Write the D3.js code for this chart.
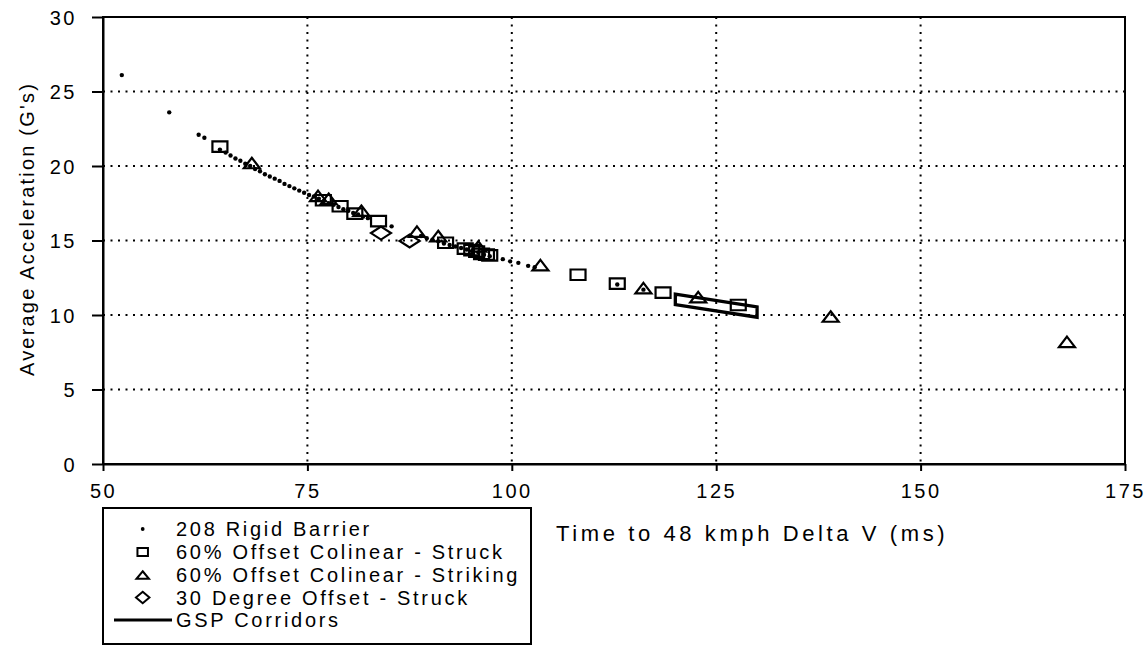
<!DOCTYPE html>
<html><head><meta charset="utf-8">
<script src="https://cdn.jsdelivr.net/npm/d3@7"></script>
<style>
html,body{margin:0;padding:0;background:#fff;}
text{font-family:"Liberation Sans",Arial,sans-serif;fill:#000;}
</style></head>
<body><svg id="c" width="1147" height="646"></svg>
<script>
// ---- data ----
const xTicks = [50, 75, 100, 125, 150, 175];
const yTicks = [0, 5, 10, 15, 20, 25, 30];

const barrierX = [52.3, 58.1, 61.7, 62.4, 64.3, 65.0, 65.6, 66.2, 66.8, 67.4, 68.0, 68.6, 69.2, 69.8, 70.4, 71.0, 71.6, 72.2, 72.8, 73.4, 74.0, 74.6, 75.2, 75.8, 76.4, 77.0, 77.6, 78.2, 78.8, 79.4, 80.0, 80.6, 81.2, 81.8, 82.4, 85.3, 88.9, 89.6, 90.3, 91.0, 91.7, 92.4, 93.1, 93.8, 94.5, 95.2, 95.9, 96.6, 97.3, 98.9, 99.8, 100.8, 102.0, 102.8, 112.9, 116.1];
const barrierY = [26.1, 23.6, 22.1, 21.9, 21.1, 20.9, 20.7, 20.5, 20.35, 20.15, 20.0, 19.8, 19.65, 19.45, 19.3, 19.15, 19.0, 18.8, 18.65, 18.5, 18.35, 18.2, 18.05, 17.95, 17.8, 17.65, 17.5, 17.4, 17.25, 17.1, 17.0, 16.85, 16.75, 16.6, 16.5, 15.95, 15.3, 15.15, 15.05, 14.95, 14.8, 14.7, 14.6, 14.5, 14.4, 14.3, 14.2, 14.05, 13.95, 13.75, 13.6, 13.5, 13.3, 13.2, 12.05, 11.7];

const struckX = [64.3, 76.95, 79.0, 80.8, 83.7, 91.9, 94.3, 95.1, 95.7, 96.3, 96.9, 97.3, 108.1, 112.9, 118.5, 127.7];
const struckY = [21.3, 17.7, 17.3, 16.8, 16.3, 14.85, 14.45, 14.35, 14.25, 14.1, 14.05, 14.0, 12.7, 12.1, 11.5, 10.67];

const strikingX = [68.2, 76.3, 77.6, 81.6, 88.4, 91.0, 95.9, 103.5, 116.1, 122.8, 139.0, 167.9];
const strikingY = [20.2, 18.0, 17.8, 17.0, 15.6, 15.3, 14.6, 13.35, 11.8, 11.2, 9.9, 8.2];

const degreeX = [84.0, 87.5];
const degreeY = [15.5, 14.97];

const corridorX = [120, 130, 130, 120];
const corridorY = [11.4, 10.55, 9.85, 10.7];

const legendLabels = ["208 Rigid Barrier", "60% Offset Colinear - Struck", "60% Offset Colinear - Striking", "30 Degree Offset - Struck", "GSP Corridors"];
const xTitle = "Time to 48 kmph Delta V (ms)";
const yTitle = "Average Acceleration (G's)";

// ---- drawing ----
const svg = d3.select("#c");
const L = 103, R = 1125, T = 17, B = 464;
const x = d3.scaleLinear().domain([50, 175]).range([L, R]);
const y = d3.scaleLinear().domain([0, 30]).range([B, T]);
const FS = "20px", LS = "2.5px";

// grid
const grid = svg.append("g").attr("stroke", "#000").attr("stroke-width", 2).attr("stroke-dasharray", "2,5.5");
grid.selectAll(".gx").data(xTicks.slice(1, -1)).join("line")
  .attr("x1", d => x(d)).attr("x2", d => x(d)).attr("y1", T).attr("y2", B);
grid.selectAll(".gy").data(yTicks.slice(1, -1)).join("line")
  .attr("y1", d => y(d)).attr("y2", d => y(d)).attr("x1", L).attr("x2", R);

// border
svg.append("rect").attr("x", L).attr("y", T).attr("width", R - L).attr("height", B - T)
  .attr("fill", "none").attr("stroke", "#000").attr("stroke-width", 2);

// axes
const ax = svg.append("g").attr("transform", `translate(0,${B})`)
  .call(d3.axisBottom(x).tickValues(xTicks).tickSize(7).tickSizeOuter(0).tickFormat(d3.format("d")));
const ay = svg.append("g").attr("transform", `translate(${L},0)`)
  .call(d3.axisLeft(y).tickValues(yTicks).tickSize(11).tickSizeOuter(0).tickPadding(15).tickFormat(d3.format("d")));
[ax, ay].forEach(g => {
  g.select(".domain").attr("stroke", "#000").attr("stroke-width", 2);
  g.selectAll(".tick line").attr("stroke", "#000").attr("stroke-width", 2);
  g.selectAll("text").attr("font-size", FS).attr("letter-spacing", LS)
    .attr("font-family", '"Liberation Sans",Arial,sans-serif').attr("fill", "#000");
});
ax.selectAll("text").attr("dy", null).attr("y", 34);
ay.selectAll("text").attr("dy", "0.36em");

// titles
svg.append("text").attr("x", 556).attr("y", 541).attr("font-size", "22px").attr("letter-spacing", "3.6px").text(xTitle);
svg.append("text").attr("transform", `translate(34,229) rotate(-90)`).attr("text-anchor", "middle")
  .attr("font-size", FS).attr("letter-spacing", "2.2px").text(yTitle);

// shape helpers
const sq = (w, h) => `M${-w/2},${-h/2}h${w}v${h}h${-w}Z`;
const tri = (w, h) => `M0,${-h/2}L${w/2},${h/2}L${-w/2},${h/2}Z`;
const dia = (w, h) => `M0,${-h/2}L${w/2},0L0,${h/2}L${-w/2},0Z`;

// corridor
const cpts = corridorX.map((d, i) => [x(d), y(corridorY[i])]);
svg.append("path").attr("d", d3.line()(cpts) + "Z").attr("fill", "none")
  .attr("stroke", "#000").attr("stroke-width", 3.3).attr("stroke-linejoin", "miter");

const mk = svg.append("g").attr("fill", "none").attr("stroke", "#000").attr("stroke-width", 2.2);
mk.selectAll(".s").data(struckX).join("path")
  .attr("transform", (d, i) => `translate(${x(d)},${y(struckY[i])})`).attr("d", sq(15, 10.5));
mk.selectAll(".t").data(strikingX).join("path")
  .attr("transform", (d, i) => `translate(${x(d)},${y(strikingY[i])})`).attr("d", tri(16, 10.5));
mk.selectAll(".d").data(degreeX).join("path")
  .attr("transform", (d, i) => `translate(${x(d)},${y(degreeY[i])})`).attr("d", dia(20, 13));
svg.append("g").selectAll("circle").data(barrierX).join("circle")
  .attr("cx", d => x(d)).attr("cy", (d, i) => y(barrierY[i])).attr("r", 2.2).attr("fill", "#000");

// legend
const lg = svg.append("g");
lg.append("rect").attr("x", 103).attr("y", 508).attr("width", 428).attr("height", 136)
  .attr("fill", "#fff").attr("stroke", "#000").attr("stroke-width", 2);
const rows = [529, 552, 575, 597.5, 620];
const mx = 142.7;
lg.append("circle").attr("cx", mx).attr("cy", rows[0]).attr("r", 1.9).attr("fill", "#000");
lg.append("path").attr("transform", `translate(${mx},${rows[1]})`).attr("d", sq(10.5, 8)).attr("fill", "none").attr("stroke", "#000").attr("stroke-width", 2);
lg.append("path").attr("transform", `translate(${mx},${rows[2]})`).attr("d", tri(12.5, 7.5)).attr("fill", "none").attr("stroke", "#000").attr("stroke-width", 2);
lg.append("path").attr("transform", `translate(${mx},${rows[3]})`).attr("d", dia(13.5, 11.5)).attr("fill", "none").attr("stroke", "#000").attr("stroke-width", 2);
lg.append("line").attr("x1", 114).attr("x2", 172).attr("y1", rows[4]).attr("y2", rows[4]).attr("stroke", "#000").attr("stroke-width", 3);
lg.selectAll("text").data(legendLabels).join("text")
  .attr("x", 176).attr("y", (d, i) => rows[i] + 7.2)
  .attr("font-size", FS).attr("letter-spacing", "2.7px").text(d => d);
</script></body></html>
